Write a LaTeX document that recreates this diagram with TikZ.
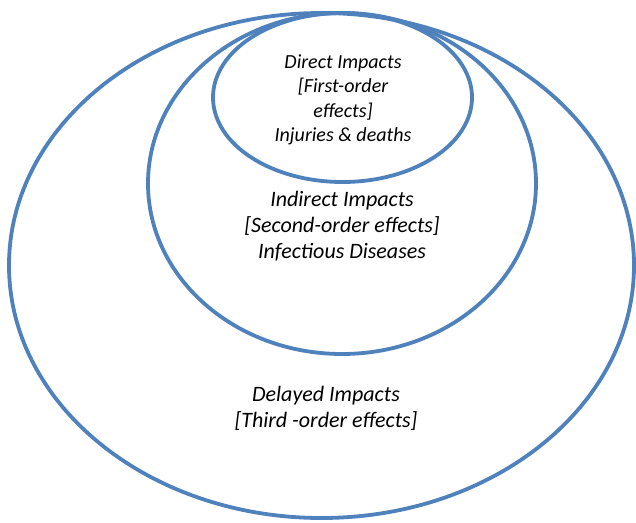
\documentclass[tikz,border=0pt]{standalone}
\usepackage{fontspec}
\setmainfont{Carlito}
\definecolor{ringblue}{HTML}{4F81BD}
\begin{document}
\begin{tikzpicture}[x=1pt,y=-1pt,
  ring/.style={draw=ringblue,line width=3.8pt},
  lbl/.style={align=center,font=\itshape\fontsize{22}{26}\selectfont,inner sep=0pt},
  lblsmall/.style={lbl,font=\itshape\fontsize{20}{24.5}\selectfont}]
\useasboundingbox (0,0) rectangle (636,522);
\draw[ring] (321.5,265.5) ellipse [x radius=312.5, y radius=252.5];
\draw[ring] (342,183.5) ellipse [x radius=194, y radius=170.5];
\draw[ring] (342.5,97.5) ellipse [x radius=129.5, y radius=84.5];
\node[lblsmall] (direct) at (343,100) {Direct Impacts\\ {[}First-order\\ effects{]}\\ Injuries \& deaths};
\node[lbl] (indirect) at (342,226.5) {Indirect Impacts\\ {[}Second-order effects{]}\\ Infectious Diseases};
\node[lbl] (delayed) at (326,408.5) {Delayed Impacts\\ {[}Third -order effects{]}};
\end{tikzpicture}
\end{document}
